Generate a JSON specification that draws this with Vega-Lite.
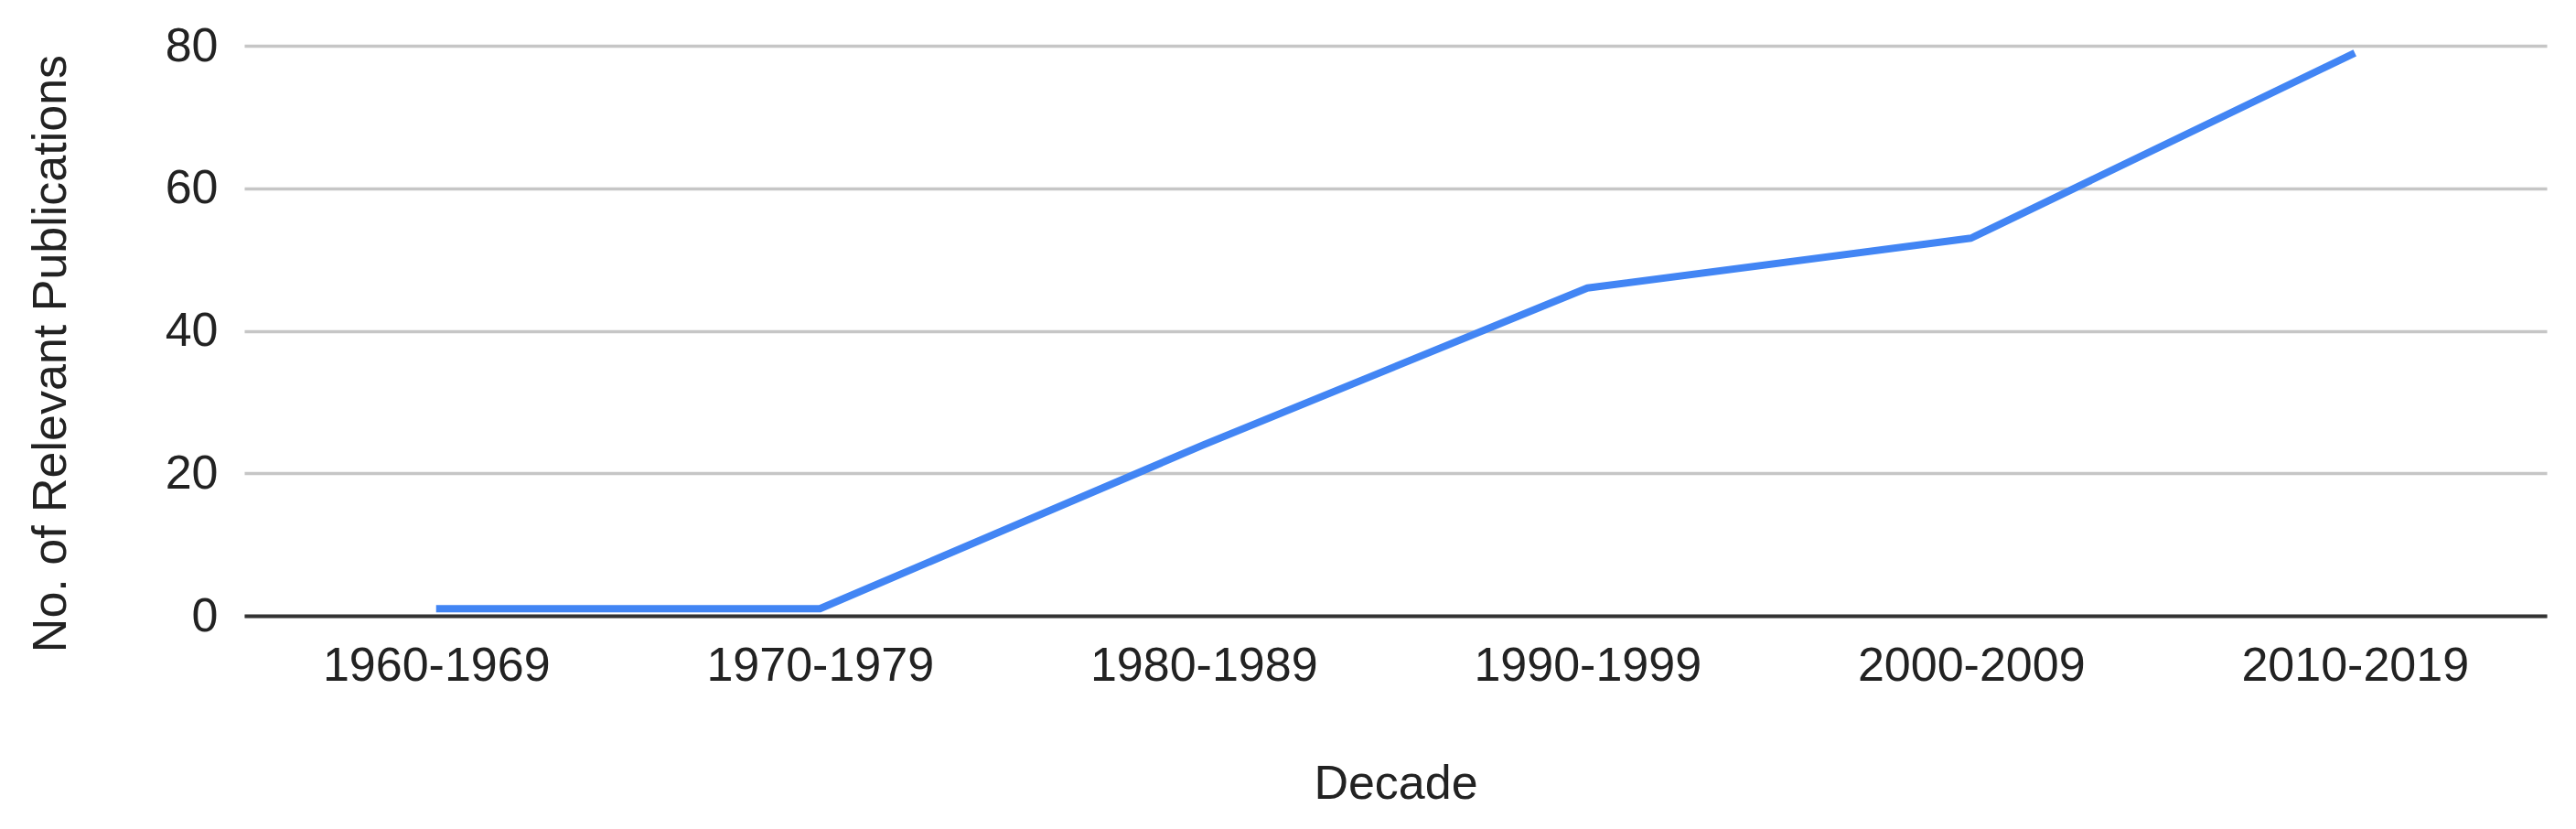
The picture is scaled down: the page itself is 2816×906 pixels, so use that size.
{
  "$schema": "https://vega.github.io/schema/vega-lite/v6.json",
  "autosize": {"type": "none"},
  "padding": {"left": 267, "top": 50, "right": 32, "bottom": 233},
  "width": 2517,
  "height": 623,
  "background": "#ffffff",
  "config": {
    "view": {"stroke": null},
    "font": "Liberation Sans"
  },
  "data": {
    "values": [
      {"Decade": "1960-1969", "Publications": 1},
      {"Decade": "1970-1979", "Publications": 1},
      {"Decade": "1980-1989", "Publications": 24},
      {"Decade": "1990-1999", "Publications": 46},
      {"Decade": "2000-2009", "Publications": 53},
      {"Decade": "2010-2019", "Publications": 79}
    ]
  },
  "mark": {"type": "line", "color": "#4285F4", "strokeWidth": 8, "strokeCap": "butt", "strokeJoin": "round"},
  "encoding": {
    "x": {
      "field": "Decade",
      "type": "ordinal",
      "sort": null,
      "scale": {"type": "point", "padding": 0.5},
      "axis": {
        "title": "Decade",
        "labelAngle": 0,
        "labelFontSize": 52,
        "labelColor": "#222222",
        "labelPadding": 29,
        "labelLimit": 1000,
        "ticks": false,
        "grid": false,
        "domainColor": "#333333",
        "domainWidth": 4,
        "titleFontSize": 52,
        "titleFontWeight": "normal",
        "titleColor": "#222222",
        "titleBaseline": "alphabetic",
        "titleY": 199
      }
    },
    "y": {
      "field": "Publications",
      "type": "quantitative",
      "scale": {"domain": [0, 80], "nice": false, "zero": true},
      "axis": {
        "title": "No. of Relevant Publications",
        "values": [0, 20, 40, 60, 80],
        "labelFontSize": 52,
        "labelColor": "#222222",
        "labelPadding": 29,
        "ticks": false,
        "domain": false,
        "grid": true,
        "gridColor": "#c6c6c6",
        "gridWidth": 3.5,
        "titleFontSize": 52,
        "titleFontWeight": "normal",
        "titleColor": "#222222",
        "titleBaseline": "alphabetic",
        "titleX": -196,
        "titleY": 336,
        "titleAlign": "center",
        "titleAngle": -90
      }
    }
  }
}
